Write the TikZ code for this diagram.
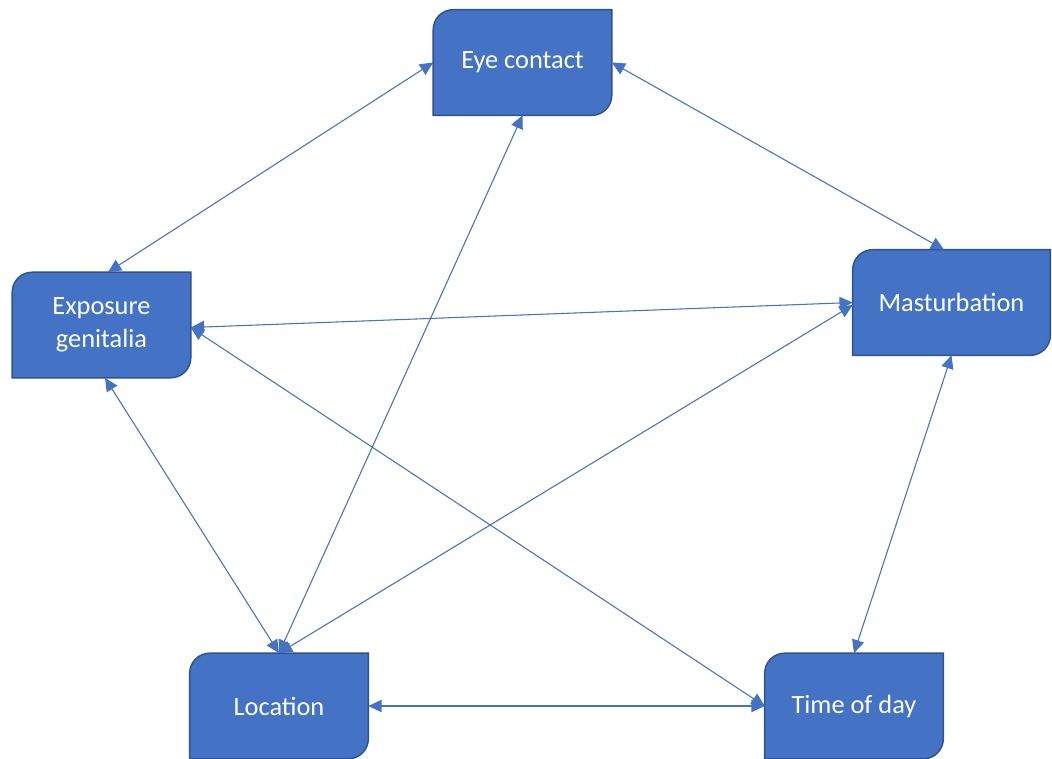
\documentclass[tikz,border=0pt]{standalone}
\usepackage{fontspec}
\setmainfont{Carlito}
\usepackage{xcolor}
\usepackage{tikz}
\usetikzlibrary{arrows.meta,positioning,calc,backgrounds}
\definecolor{boxblue}{HTML}{4472C4}
\definecolor{boxedge}{HTML}{2F528F}

\begin{document}
\begin{tikzpicture}[
  x=0.02cm, y=-0.02cm,
  st/.style={minimum width=3.56cm, minimum height=2.1cm, align=center, text=white, font=\fontsize{15}{19}\selectfont},
  arr/.style={{Triangle[length=7.5pt,width=7pt]}-{Triangle[length=7.5pt,width=7pt]}, draw=boxblue, fill=boxblue, line width=0.6pt}
]
\useasboundingbox (0,0) rectangle (1052,758);

\node[st] (eye) at (522.5,62.5) {Eye contact};
\node[st] (expo) at (101.5,325) {Exposure\\genitalia};
\node[st, minimum width=3.94cm] (mast) at (951.5,302.5) {Masturbation};
\node[st] (loc) at (279,706) {Location};
\node[st] (tod) at (854,706) {Time of day};

\begin{scope}[on background layer]
\foreach \n in {eye,expo,mast,loc,tod}
  \filldraw[fill=boxblue, draw=boxedge, line width=0.8pt]
    (\n.north east) -- ([xshift=0.4cm]\n.north west) arc[start angle=90, end angle=180, radius=0.4cm]
    -- (\n.south west) -- ([xshift=-0.4cm]\n.south east) arc[start angle=270, end angle=360, radius=0.4cm] -- cycle;
\end{scope}

\draw[arr] (eye.west) -- ([xshift=0.13cm]expo.north);
\draw[arr] (eye.east) -- ([xshift=-0.15cm]mast.north);
\draw[arr] (eye.south) -- (loc.north);
\draw[arr] ([yshift=-0.05cm]expo.east) -- (mast.west);
\draw[arr] ([yshift=-0.05cm]expo.east) -- (tod.west);
\draw[arr] ([xshift=0.07cm]expo.south) -- (loc.north);
\draw[arr] (loc.north) -- ([yshift=-0.05cm]mast.west);
\draw[arr] (loc.east) -- (tod.west);
\draw[arr] (mast.south) -- (tod.north);
\end{tikzpicture}
\end{document}
